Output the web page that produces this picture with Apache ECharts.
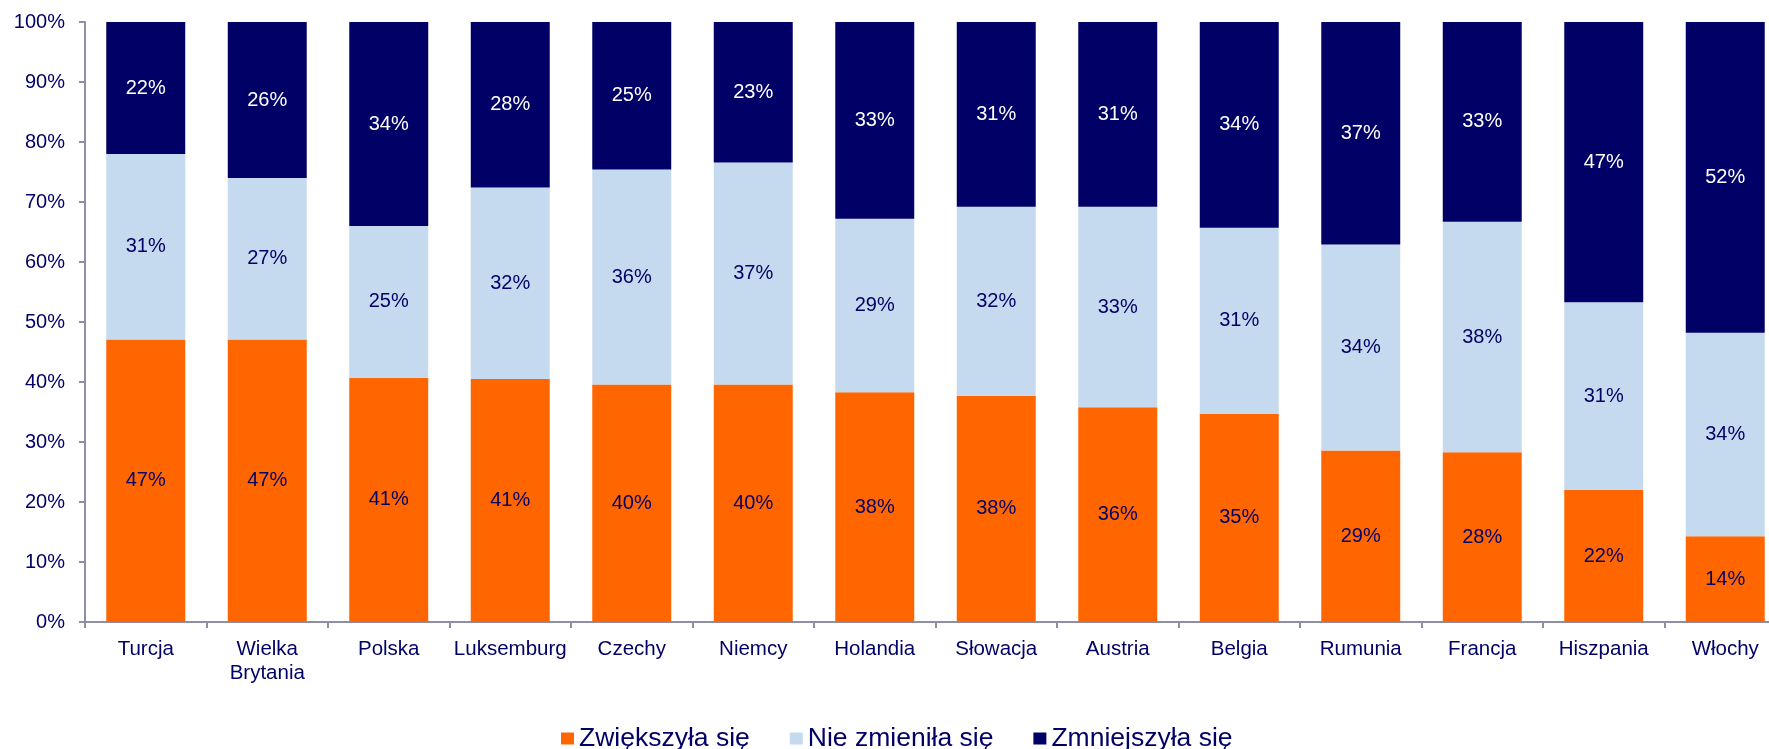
<!DOCTYPE html>
<html>
<head>
<meta charset="utf-8">
<script src="https://cdn.jsdelivr.net/npm/echarts@6/dist/echarts.min.js"></script>
<style>
  html, body { margin: 0; padding: 0; background: #fff; }
  #chart { width: 1769px; height: 749px; }
</style>
</head>
<body>
<div id="chart"></div>
<script>
// kategorie (kraje)
const countries = ['Turcja', 'Wielka\nBrytania', 'Polska', 'Luksemburg', 'Czechy', 'Niemcy', 'Holandia',
  'Słowacja', 'Austria', 'Belgia', 'Rumunia', 'Francja', 'Hiszpania', 'Włochy'];
const increased = [47.1, 47.1, 40.7, 40.5, 39.6, 39.6, 38.3, 37.7, 35.8, 34.7, 28.6, 28.3, 22.0, 14.3];
const unchanged = [30.9, 26.9, 25.3, 31.9, 35.8, 37.0, 28.9, 31.5, 33.4, 31.0, 34.3, 38.4, 31.3, 33.9];
const decreased = [22.0, 26.0, 34.0, 27.6, 24.6, 23.4, 32.8, 30.8, 30.8, 34.3, 37.1, 33.3, 46.7, 51.8];
const seriesNames = ['Zwiększyła się', 'Nie zmieniła się', 'Zmniejszyła się'];

const navy = '#000066';
const axisGray = '#8E8EA6';
const font = 'Liberation Sans, Arial, sans-serif';

const chart = echarts.init(document.getElementById('chart'));

function barSeries(name, data, color, labelColor) {
  return {
    name: name,
    type: 'bar',
    stack: 'total',
    barCategoryGap: '35%',
    data: data,
    itemStyle: { color: color },
    label: {
      show: true,
      position: 'inside',
      color: labelColor,
      fontFamily: font,
      fontSize: 20,
      formatter: (p) => Math.round(p.value) + '%'
    }
  };
}

chart.setOption({
  animation: false,
  textStyle: { fontFamily: font },
  // wykres w oryginale jest ucięty z prawej strony
  grid: { left: 85, width: 1701, top: 22, bottom: 127, outerBoundsMode: 'none' },
  legend: {
    left: 556,
    top: 720,
    itemWidth: 13,
    itemHeight: 12,
    itemGap: 40,
    icon: 'rect',
    data: seriesNames,
    textStyle: { color: navy, fontSize: 26.5, fontFamily: font }
  },
  xAxis: {
    type: 'category',
    data: countries,
    axisLine: { lineStyle: { color: axisGray, width: 2 } },
    axisTick: { show: true, length: 6, lineStyle: { color: axisGray, width: 2 } },
    axisLabel: { color: navy, fontSize: 20.5, margin: 15, lineHeight: 24, interval: 0 }
  },
  yAxis: {
    type: 'value',
    min: 0,
    max: 100,
    interval: 10,
    splitLine: { show: false },
    axisLine: { show: true, lineStyle: { color: axisGray, width: 2 } },
    axisTick: { show: true, length: 6, lineStyle: { color: axisGray, width: 2 } },
    axisLabel: { color: navy, fontSize: 20, margin: 20, formatter: '{value}%' }
  },
  series: [
    barSeries(seriesNames[0], increased, '#FF6600', navy),
    barSeries(seriesNames[1], unchanged, '#C6DAEF', navy),
    barSeries(seriesNames[2], decreased, navy, '#ffffff')
  ]
});
</script>
</body>
</html>
